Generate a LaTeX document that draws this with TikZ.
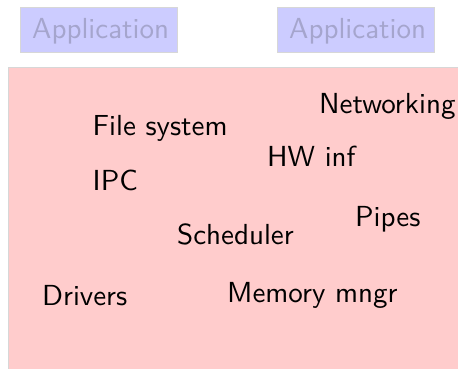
\documentclass[tikz,border=0pt]{standalone}
\usepackage{graphicx}
\definecolor{appfill}{RGB}{204,204,255}
\definecolor{apptext}{RGB}{165,165,205}
\definecolor{kernfill}{RGB}{255,204,204}
\definecolor{edgegray}{RGB}{215,215,215}
\newcommand{\bigtxt}[1]{\scalebox{2.9}{\sffamily\fontsize{10}{12}\selectfont #1}}
\begin{document}
\begin{tikzpicture}[x=1pt,y=-1pt,
  appbox/.style={draw=edgegray,line width=1pt,fill=appfill},
  kernbox/.style={draw=edgegray,line width=1pt,fill=kernfill},
  apptxt/.style={text=apptext,inner sep=0pt,anchor=base west},
  comp/.style={text=black,inner sep=0pt,anchor=base west}]
\useasboundingbox (0,0) rectangle (458,368);
\draw[appbox] (20,7) rectangle (177,52);
\draw[appbox] (277,7) rectangle (434,52);
\draw[kernbox] (8,67) rectangle (470,380);
\node[apptxt] (app1) at (32,38) {\bigtxt{Application}};
\node[apptxt] (app2) at (289,38) {\bigtxt{Application}};
\node[comp] (fs) at (92.5,135) {\bigtxt{File system}};
\node[comp] (net) at (319,113) {\bigtxt{Networking}};
\node[comp] (hw) at (267,166) {\bigtxt{HW inf}};
\node[comp] (ipc) at (92.5,190) {\bigtxt{IPC}};
\node[comp] (pipes) at (355,226) {\bigtxt{Pipes}};
\node[comp] (sched) at (177,244) {\bigtxt{Scheduler}};
\node[comp] (drv) at (42,305) {\bigtxt{Drivers}};
\node[comp] (mem) at (227,302) {\bigtxt{Memory mngr}};
\end{tikzpicture}
\end{document}
